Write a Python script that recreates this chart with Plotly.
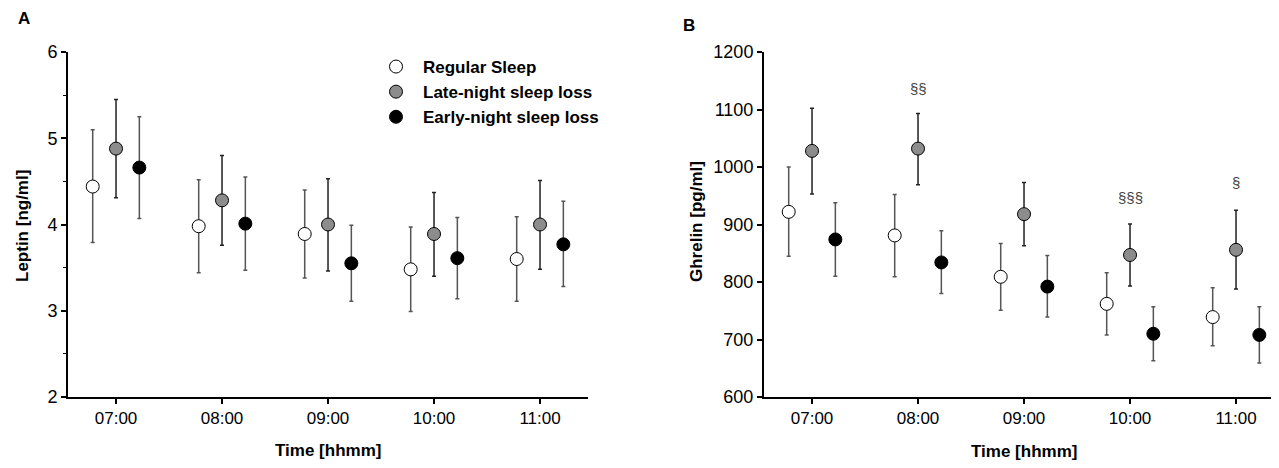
import plotly.graph_objects as go

# ---------------- data ----------------
times = ["07:00", "08:00", "09:00", "10:00", "11:00"]
hours = [7, 8, 9, 10, 11]
groups = ["Regular Sleep", "Late-night sleep loss", "Early-night sleep loss"]

# Leptin [ng/ml]
leptin_regular = [4.44, 3.98, 3.89, 3.48, 3.60]
leptin_regular_hi = [5.10, 4.52, 4.40, 3.97, 4.09]
leptin_regular_lo = [3.79, 3.44, 3.38, 2.99, 3.11]
leptin_late = [4.88, 4.28, 4.00, 3.89, 4.00]
leptin_late_hi = [5.45, 4.80, 4.53, 4.37, 4.51]
leptin_late_lo = [4.31, 3.76, 3.46, 3.40, 3.48]
leptin_early = [4.66, 4.01, 3.55, 3.61, 3.77]
leptin_early_hi = [5.25, 4.55, 3.99, 4.08, 4.27]
leptin_early_lo = [4.07, 3.47, 3.11, 3.14, 3.28]

# Ghrelin [pg/ml]
ghrelin_regular = [922, 881, 809, 762, 739]
ghrelin_regular_hi = [1000, 952, 867, 816, 790]
ghrelin_regular_lo = [845, 809, 751, 708, 689]
ghrelin_late = [1028, 1032, 918, 847, 856]
ghrelin_late_hi = [1102, 1093, 973, 901, 925]
ghrelin_late_lo = [953, 969, 863, 793, 788]
ghrelin_early = [874, 834, 792, 710, 708]
ghrelin_early_hi = [938, 889, 846, 757, 757]
ghrelin_early_lo = [810, 780, 739, 663, 659]

sig_times = ["08:00", "10:00", "11:00"]
sig_labels = ["§§", "§§§", "§"]
sig_y = [1137, 947, 973]

# ---------------- styling ----------------
offsets = [-0.22, 0.0, 0.22]
fills = ["white", "#8c8c8c", "black"]
bar_colors = ["#555555", "#222222", "#555555"]
FONT = "Liberation Sans, Arial, sans-serif"

# the page body has an 8px margin: lay out in page pixels and convert
PAGE_W, PAGE_H = 1279, 468
BODY = 8
W, H = PAGE_W - 2 * BODY, PAGE_H - 2 * BODY


def px(x):
    return (x - BODY) / W


def py(y):
    return 1 - (y - BODY) / H


fig = go.Figure()


def add_group(i, vals, hi, lo, xa, ya, show):
    fig.add_trace(go.Scatter(
        x=[h + offsets[i] for h in hours], y=vals,
        mode="markers", name=groups[i], showlegend=show,
        xaxis=xa, yaxis=ya, cliponaxis=False,
        marker=dict(size=13, color=fills[i], line=dict(color="black", width=1)),
        error_y=dict(type="data", symmetric=False,
                     array=[h - v for h, v in zip(hi, vals)],
                     arrayminus=[v - l for v, l in zip(vals, lo)],
                     color=bar_colors[i], thickness=1.5, width=2),
    ))


lep = [(leptin_regular, leptin_regular_hi, leptin_regular_lo),
       (leptin_late, leptin_late_hi, leptin_late_lo),
       (leptin_early, leptin_early_hi, leptin_early_lo)]
ghr = [(ghrelin_regular, ghrelin_regular_hi, ghrelin_regular_lo),
       (ghrelin_late, ghrelin_late_hi, ghrelin_late_lo),
       (ghrelin_early, ghrelin_early_hi, ghrelin_early_lo)]

for i, (v, h, l) in enumerate(lep):
    add_group(i, v, h, l, "x", "y", True)
for i, (v, h, l) in enumerate(ghr):
    add_group(i, v, h, l, "x2", "y2", False)

for t, lab, yv in zip(sig_times, sig_labels, sig_y):
    fig.add_annotation(x=hours[times.index(t)], y=yv, xref="x2", yref="y2",
                       text=lab, showarrow=False,
                       font=dict(family=FONT, size=15, color="#444444"))

ydom = [py(397), py(52)]

axis_common = dict(showline=True, linecolor="black", linewidth=2,
                   ticks="outside", ticklen=5, tickwidth=1.5, tickcolor="black",
                   showgrid=False, zeroline=False, automargin=False)
yfont = dict(family=FONT, size=18, color="black")
xfont = dict(family=FONT, size=17, color="black")

HOUR_PX = 106
B_AXIS = 764
B_END = PAGE_W - BODY

fig.update_layout(
    template="none",
    width=W, height=H,
    margin=dict(l=0, r=0, t=0, b=0, pad=0, autoexpand=False),
    paper_bgcolor="white", plot_bgcolor="white",
    font=dict(family=FONT, color="black"),
    xaxis=dict(domain=[px(68), px(588)], range=[6.547, 6.547 + 520 / HOUR_PX], anchor="y",
               tickvals=hours, ticktext=times, tickfont=xfont, **axis_common),
    yaxis=dict(domain=ydom, range=[2, 6], anchor="x", tickvals=[2, 3, 4, 5, 6],
               minor=dict(tickvals=[2.5, 3.5, 4.5, 5.5], ticks="outside", ticklen=3,
                          tickwidth=1, tickcolor="black"),
               tickfont=yfont, **axis_common),
    xaxis2=dict(domain=[px(B_AXIS), 1.0], range=[6.547, 6.547 + (B_END - B_AXIS) / HOUR_PX],
                anchor="y2", tickvals=hours, ticktext=times, tickfont=xfont, **axis_common),
    yaxis2=dict(domain=ydom, range=[600, 1200], anchor="x2",
                tickvals=[600, 700, 800, 900, 1000, 1100, 1200],
                tickfont=yfont, **axis_common),
    legend=dict(x=px(369), y=py(49), xanchor="left", yanchor="top",
                itemwidth=44,
                bgcolor="rgba(0,0,0,0)", borderwidth=0, tracegroupgap=0,
                font=dict(family=FONT, size=17, color="black", weight="bold")),
)

texts = [
    dict(x=328, y=450, text="<b>Time [hhmm]</b>", angle=0),
    dict(x=B_AXIS + 260, y=451, text="<b>Time [hhmm]</b>", angle=0),
    dict(x=22, y=226, text="<b>Leptin [ng/ml]</b>", angle=-90),
    dict(x=B_AXIS - 67, y=222, text="<b>Ghrelin [pg/ml]</b>", angle=-90),
    dict(x=24, y=18, text="<b>A</b>", angle=0),
    dict(x=B_AXIS - 75, y=25, text="<b>B</b>", angle=0),
]
for t in texts:
    fig.add_annotation(xref="paper", yref="paper", x=px(t["x"]), y=py(t["y"]), text=t["text"],
                       textangle=t["angle"], showarrow=False,
                       xanchor="center", yanchor="middle",
                       font=dict(family=FONT, size=17, color="black"))

fig.write_html("out.html")
